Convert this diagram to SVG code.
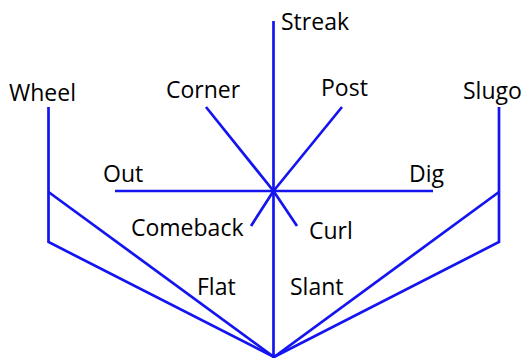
<svg xmlns="http://www.w3.org/2000/svg" width="524" height="358" viewBox="0 0 524 358">
<style>
.l{stroke:#1414f0;stroke-width:2.7;fill:none;stroke-linejoin:miter}
.t{font-family:"Open Sans","Liberation Sans",sans-serif;font-size:23px;fill:#000}
</style>
<rect width="524" height="358" fill="#fff"/>
<g id="connectors">
<line class="l" x1="273.5" y1="21" x2="273.5" y2="358"/>
<line class="l" x1="115" y1="191" x2="433" y2="191"/>
<line class="l" x1="206" y1="107" x2="273.5" y2="191"/>
<line class="l" x1="342" y1="107" x2="273.5" y2="191"/>
<line class="l" x1="273.5" y1="191" x2="251" y2="226"/>
<line class="l" x1="273.5" y1="191" x2="297" y2="226"/>
<polyline class="l" points="48.5,107 48.5,242 274,357"/>
<line class="l" x1="48.5" y1="192" x2="274" y2="357"/>
<polyline class="l" points="499,107 499,242 274,357"/>
<line class="l" x1="499" y1="192" x2="274" y2="357"/>
</g>
<g id="streak"><text class="t" x="281" y="30">Streak</text></g>
<g id="wheel"><text class="t" x="9" y="101">Wheel</text></g>
<g id="corner"><text class="t" x="166" y="98">Corner</text></g>
<g id="post"><text class="t" x="321" y="96">Post</text></g>
<g id="slugo"><text class="t" x="463" y="99">Slugo</text></g>
<g id="out"><text class="t" x="103" y="182">Out</text></g>
<g id="dig"><text class="t" x="409" y="182">Dig</text></g>
<g id="comeback"><text class="t" x="131" y="236">Comeback</text></g>
<g id="curl"><text class="t" x="309" y="239">Curl</text></g>
<g id="flat"><text class="t" x="197" y="295">Flat</text></g>
<g id="slant"><text class="t" x="290" y="295">Slant</text></g>
</svg>
